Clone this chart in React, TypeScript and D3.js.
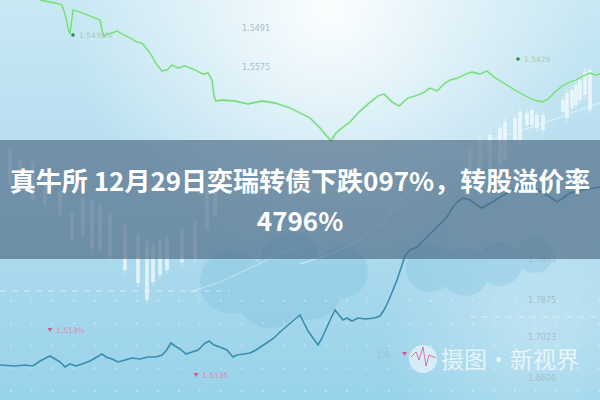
import React from "react";
import * as d3 from "d3";

const W = 600;
const H = 400;

// green series (upper line): time index and level
const greenT = [8, 11, 12.4, 13, 13.6, 14, 14.6, 16, 18, 20, 20.4, 20.8, 21.4, 22.4, 23.4, 24.4, 26, 27.4, 28.4, 30, 31.4, 32.4, 33.4, 34.4, 35.6, 37, 39, 40.6, 41.6, 42.4, 42.8, 43.2, 44.4, 47, 49.6, 52.4, 55, 58, 60, 62, 64, 65.2, 66.2, 67.2, 68.4, 70, 71.6, 73.6, 75.6, 76.8, 78.4, 79.8, 81.6, 83, 84.6, 86, 87.4, 88.8, 90, 91.6, 93.2, 94.4, 96, 97.4, 98.8, 100.4, 102, 103.6, 105.2, 106.8, 108.4, 109.6, 111, 112.4, 114, 115.2, 116.6, 118, 119.2, 120];
const greenV = [100, 99.25, 98.75, 96.5, 93, 91.5, 97.5, 97, 96, 95, 92.5, 90.75, 91.5, 91.75, 92.25, 91.5, 90.5, 89.5, 89.25, 86.75, 83.75, 82.25, 82.5, 83.75, 83, 83.5, 82.5, 81.5, 81.75, 80, 76, 74.75, 75, 74.75, 74, 74.75, 74.25, 73, 71.75, 70.5, 68, 66.25, 64.75, 66.75, 68, 69.5, 71.75, 74, 76, 76.5, 74.5, 73.5, 75.5, 76, 76.75, 78, 77.25, 79, 80, 80.5, 81.5, 82, 81.5, 82.25, 80.75, 79.5, 78.25, 77, 76, 75, 74.5, 75.25, 77, 78.5, 79.5, 80, 81, 81.75, 81.25, 81.5];

// blue series (lower line)
const blueT = [0, 3, 5, 6.6, 8, 9.2, 10, 11, 12, 13, 14, 15.2, 16.4, 18, 19.4, 20.4, 21.2, 22.4, 23.6, 25, 26.4, 28, 29.6, 31.2, 32.4, 33.2, 34.2, 35, 36, 37.2, 38.4, 39.6, 40.8, 41.8, 42.8, 44, 45.4, 46.6, 47.4, 48.8, 50, 51.2, 52.4, 53.6, 54.8, 56, 57.4, 58.8, 60, 60.8, 61.6, 62.6, 63.6, 64.4, 65.4, 66.2, 67, 67.8, 68.6, 69.4, 70.4, 71.6, 73.2, 74.8, 76, 76.8, 77.6, 78.6, 79.4, 80.2, 81, 82, 83.4, 85.4, 87.4, 89.4, 90.6, 91.4, 92.6, 94, 95.4, 96.4, 97.4, 98.6, 100, 101.4, 103.4, 106, 108.6, 110, 111.4, 112.6, 114, 116.6, 120];
const blueV = [8.75, 8.5, 8.75, 8.5, 9.75, 10.5, 11, 10.25, 9.5, 8.25, 9, 8.5, 9, 9.75, 10.75, 11.5, 10.75, 10.25, 9.5, 10, 10.5, 10.25, 10.75, 10.75, 11.25, 12.25, 14.25, 13.5, 12.75, 11.5, 12, 12.5, 14, 14.75, 13.75, 13.25, 12.5, 10.75, 11.25, 11.5, 11.75, 12.5, 13.5, 14.5, 15.5, 17, 18.5, 20, 21.25, 19.25, 17.25, 15.5, 13.75, 15.5, 18.25, 20.5, 22.5, 21.25, 20, 20.5, 19.75, 20.5, 20.25, 20.5, 21, 22.5, 24.5, 27.5, 30, 33, 36, 37.5, 38.25, 40.75, 43.25, 45.75, 48.25, 49.5, 50.5, 50, 48.75, 48, 48.75, 49.5, 50.75, 51.75, 53, 53.5, 51.75, 50.75, 49.5, 50.5, 51.75, 52.5, 53.25];

// faint trend lines
const faintT = [60, 66, 72, 76, 81, 86, 92, 98, 104, 110, 116, 120];
const faintV = [34, 36.5, 40, 43.75, 51, 58.75, 62.5, 65, 67.25, 69.75, 72.5, 74.25];
const faint2T = [38, 44, 50, 56, 60];
const faint2V = [27, 29.5, 33, 36.5, 38];

// candles: time index, high level, low level
const candleT = [2, 4, 6.6, 9, 12, 14.4, 16.6, 18.4, 20, 22, 25, 27.6, 29.4, 30.6, 32, 33.4, 36.4, 39, 41.4, 43, 94, 96, 98, 100, 101, 103, 104, 105.4, 106.4, 107.4, 108.6, 112.6, 113.4, 114.4, 115.2, 116, 117, 118];
const candleHi = [62.5, 60, 59.5, 56.25, 52.5, 47, 50.5, 50, 48.75, 46.25, 43.75, 41.25, 40, 38.75, 40, 40.5, 42.5, 44.5, 54.5, 56.25, 62.5, 65, 66.25, 68, 69.5, 70.5, 72, 71.75, 72.5, 71.25, 71.25, 75, 76.75, 77.5, 78.75, 80, 82, 82.5];
const candleLo = [53.75, 52.5, 50, 48.75, 46.25, 40, 41.25, 38, 37.5, 36, 32.5, 29.25, 25, 29.5, 31.25, 32.5, 34.5, 35.5, 42.5, 46.25, 55, 56.25, 57.5, 58.75, 60, 65, 65, 68.75, 68.75, 68, 67.5, 72, 70.5, 73, 73.75, 75, 76.25, 72.5];

// price tick labels
const tickLabels = ["1.5491", "1.5575", "1.7873", "1.7875", "1.7023", "1.6600", "1.6"];
const tickT = [48.4, 48.4, 105.6, 105.6, 105.6, 105.6, 75.4];
const tickV = [92.25, 82.5, 34.5, 24.25, 15, 4.75, 10.5];

// markers
const markerLabels = ["1.513%", "1.5135", "1.5439%", "1.5429"];
const markerT = [10, 39.2, 14.6, 103.6];
const markerV = [16.75, 5.5, 90.5, 84.5];
const markerKind = ["down", "down", "dot", "dot"];

// dashed reference levels
const refV = [27.25, 20.75];
const refFrom = [0, 94];
const refTo = [46, 120];

const titleLines = ["真牛所 12月29日奕瑞转债下跌097%，转股溢价率", "4796%"];
const watermark = "摄图·新视界";

export default function App() {
  const x = d3.scaleLinear().domain([0, 120]).range([0, W]);
  const y = d3.scaleLinear().domain([0, 100]).range([H, 0]);
  const line = d3
    .line<[number, number]>()
    .x((d) => x(d[0]))
    .y((d) => y(d[1]));
  const green = line(greenT.map((t, i) => [t, greenV[i]]));
  const blue = line(blueT.map((t, i) => [t, blueV[i]]));
  const faint = line(faintT.map((t, i) => [t, faintV[i]]));
  const faint2 = line(faint2T.map((t, i) => [t, faint2V[i]]));

  const dotsX = d3.range(10, W, 21);
  const dotsY = d3.range(300, H, 22.5);

  const cjk = "'Noto Sans CJK SC', 'Noto Sans', sans-serif";

  return (
    <svg width={W} height={H} style={{ position: "absolute", left: 0, top: 0 }}>
      <defs>
        <linearGradient id="bg" x1="0" y1="0" x2="0" y2="1">
          <stop offset="0" stopColor="#c8e8f4" />
          <stop offset="0.45" stopColor="#b5ddef" />
          <stop offset="1" stopColor="#98d3ea" />
        </linearGradient>
        <radialGradient id="glow" cx="330" cy="10" r="260" gradientUnits="userSpaceOnUse">
          <stop offset="0" stopColor="#ffffff" stopOpacity="0.95" />
          <stop offset="0.5" stopColor="#ffffff" stopOpacity="0.45" />
          <stop offset="1" stopColor="#ffffff" stopOpacity="0" />
        </radialGradient>
        <radialGradient id="glow2" cx="540" cy="330" r="160" gradientUnits="userSpaceOnUse">
          <stop offset="0" stopColor="#ffffff" stopOpacity="0.3" />
          <stop offset="1" stopColor="#ffffff" stopOpacity="0" />
        </radialGradient>
        <filter id="soft">
          <feGaussianBlur stdDeviation="0.4" />
        </filter>
      </defs>
      <rect width={W} height={H} fill="url(#bg)" />
      <rect width={W} height={H} fill="url(#glow)" />
      <rect width={W} height={H} fill="url(#glow2)" />

      {/* clouds */}
      <g fill="#74bcdb" opacity={0.28}>
        <circle cx={232} cy={282} r={32} />
        <circle cx={270} cy={294} r={34} />
        <circle cx={310} cy={288} r={32} />
        <circle cx={342} cy={272} r={26} />
        <circle cx={290} cy={262} r={30} />
        <circle cx={430} cy={268} r={24} />
        <circle cx={465} cy={272} r={24} />
        <circle cx={500} cy={264} r={22} />
        <circle cx={535} cy={255} r={18} />
      </g>

      {/* grid dots */}
      <g fill="#ffffff" opacity={0.45}>
        {dotsY.map((yy) =>
          dotsX.map((xx) => <rect key={`${xx}-${yy}`} x={xx} y={yy} width={1.6} height={1.6} />)
        )}
      </g>

      {/* dashed reference lines */}
      {refV.map((v, i) => (
        <line
          key={i}
          x1={x(refFrom[i])}
          x2={x(refTo[i])}
          y1={y(v)}
          y2={y(v)}
          stroke="#ffffff"
          strokeOpacity={0.5}
          strokeWidth={1}
          strokeDasharray="6 6"
        />
      ))}

      {/* candles */}
      <g>
        {candleT.map((t, i) => (
          <g key={i}>
            <line
              x1={x(t)}
              x2={x(t)}
              y1={y(candleHi[i]) - 4}
              y2={y(candleLo[i]) + 4}
              stroke="#ffffff"
              strokeOpacity={0.6}
              strokeWidth={0.8}
            />
            <rect
              x={x(t) - 2}
              y={y(candleHi[i])}
              width={4}
              height={y(candleLo[i]) - y(candleHi[i])}
              fill="#ffffff"
              fillOpacity={0.55}
            />
          </g>
        ))}
      </g>

      {/* faint trend lines */}
      <path d={faint ?? ""} fill="none" stroke="#e9f6fb" strokeOpacity={0.7} strokeWidth={1.2} />
      <path d={faint2 ?? ""} fill="none" stroke="#e9f6fb" strokeOpacity={0.5} strokeWidth={1} />

      {/* main lines */}
      <path d={green ?? ""} fill="none" stroke="#bff3c4" strokeOpacity={0.6} strokeWidth={3} filter="url(#soft)" />
      <path d={green ?? ""} fill="none" stroke="#72d97f" strokeWidth={1.3} />
      <path d={blue ?? ""} fill="none" stroke="#3a8db0" strokeWidth={1.6} />

      {/* tick labels */}
      <g fontFamily="'DejaVu Sans', sans-serif" fontSize={8} fill="#a3bfcc">
        {tickLabels.map((s, i) => (
          <text key={i} x={x(tickT[i])} y={y(tickV[i])}>
            {s}
          </text>
        ))}
      </g>

      {/* markers */}
      <g fontFamily="'DejaVu Sans', sans-serif" fontSize={7.5}>
        {markerLabels.map((s, i) => {
          const px = x(markerT[i]);
          const py = y(markerV[i]);
          const down = markerKind[i] === "down";
          return (
            <g key={i}>
              {down ? (
                <path d={`M${px - 2.5},${py - 5}L${px + 2.5},${py - 5}L${px},${py - 1}Z`} fill="#d4588f" />
              ) : (
                <circle cx={px} cy={py - 3} r={1.8} fill="#2f8a45" />
              )}
              <text x={px + 6} y={py} fill={down ? "#d98ab0" : "#a8c9b4"}>
                {s}
              </text>
            </g>
          );
        })}
      </g>

      {/* title band */}
      <rect x={0} y={140} width={W} height={119} fill="rgb(78,108,134)" fillOpacity={0.68} />
      <g fontFamily={cjk} fontWeight={700} fontSize={26} fill="#ffffff" textAnchor="middle">
        <text x={300} y={191}>
          {titleLines[0]}
        </text>
        <text x={300} y={231}>
          {titleLines[1]}
        </text>
      </g>

      {/* watermark */}
      <g>
        <circle cx={423} cy={359} r={14} fill="#ffffff" fillOpacity={0.55} />
        <path
          d="M411,357 L416,352 L419,360 L423,347 L426,366 L429,355 L436,358"
          fill="none"
          stroke="#d4588f"
          strokeOpacity={0.8}
          strokeWidth={1}
        />
        <path d="M402,352 L407,352 L404.5,356 Z" fill="#d4588f" />
        <text x={441} y={368} fontFamily={cjk} fontSize={23} fill="#ffffff" fillOpacity={0.7}>
          {watermark}
        </text>
      </g>
    </svg>
  );
}
